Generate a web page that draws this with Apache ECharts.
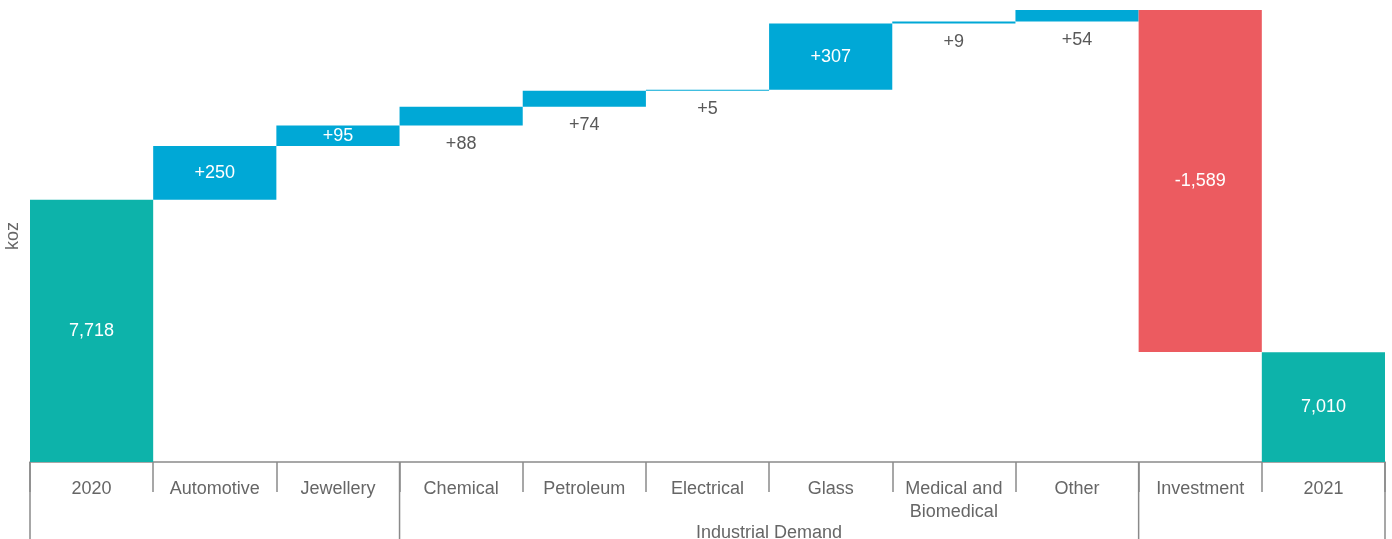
<!DOCTYPE html>
<html><head><meta charset="utf-8">
<script src="https://cdn.jsdelivr.net/npm/echarts@6/dist/echarts.min.js"></script>
<style>html,body{margin:0;padding:0;background:#fff}#c{width:1392px;height:539px}</style>
</head><body><div id="c"></div>
<script>
const categories = ['2020','Automotive','Jewellery','Chemical','Petroleum','Electrical','Glass','Medical and\nBiomedical','Other','Investment','2021'];
const values = [7718, 250, 95, 88, 74, 5, 307, 9, 54, -1589, 7010];
const isTotal = [true, false, false, false, false, false, false, false, false, false, true];
const groups = [
  {name: '', from: 0, to: 2},
  {name: 'Industrial Demand', from: 3, to: 8},
  {name: '', from: 9, to: 10}
];
const yMin = 6500, yMax = 8600;

const COL_TOTAL = '#0DB3AA', COL_UP = '#00A8D6', COL_DOWN = '#EC5B60';
const FONT = 'Liberation Sans, Arial, sans-serif';

const baseData = [], barData = [];
let run = 0;
values.forEach((v, i) => {
  let base, h, color;
  if (isTotal[i]) { base = 0; h = v; run = v; color = COL_TOTAL; }
  else if (v >= 0) { base = run; h = v; run += v; color = COL_UP; }
  else { run += v; base = run; h = -v; color = COL_DOWN; }
  baseData.push(base);
  const txt = isTotal[i] ? v.toLocaleString('en-US') : (v > 0 ? '+' : '') + v.toLocaleString('en-US');
  const inside = isTotal[i] || Math.abs(v) >= 90;
  barData.push({
    value: h,
    itemStyle: {color},
    label: inside
      ? {show: true, position: 'inside', color: '#fff', formatter: txt}
      : {show: true, position: 'bottom', distance: 9, color: '#595959', formatter: txt}
  });
});

const chart = echarts.init(document.getElementById('c'));
const gridBottom = 77;
chart.setOption({
  animation: false,
  grid: {left: 30, right: 7, top: 10, bottom: gridBottom, containLabel: false, outerBoundsMode: 'none'},
  xAxis: {
    type: 'category', data: categories,
    axisLine: {show: true, lineStyle: {color: '#8a8a8a', width: 1.5}},
    axisTick: {show: true, interval: 0, length: 30, lineStyle: {color: '#8a8a8a', width: 1.5}},
    axisLabel: {interval: 0, margin: 16, fontSize: 18, color: '#666', fontFamily: FONT, lineHeight: 23}
  },
  yAxis: {
    type: 'value', min: yMin, max: yMax,
    axisLine: {show: false}, axisTick: {show: false}, axisLabel: {show: false}, splitLine: {show: false},
    name: 'koz', nameLocation: 'middle', nameGap: 8,
    nameTextStyle: {fontSize: 18, color: '#666', fontFamily: FONT}
  },
  series: [
    {type: 'bar', stack: 'w', data: baseData, itemStyle: {color: 'transparent'}, barCategoryGap: '0%', silent: true},
    {type: 'bar', stack: 'w', data: barData, barCategoryGap: '0%',
     label: {fontSize: 18, fontFamily: FONT}}
  ]
});

function drawGroups() {
  const c0 = chart.convertToPixel({xAxisIndex: 0}, 0);
  const c1 = chart.convertToPixel({xAxisIndex: 0}, 1);
  const band = c1 - c0;
  const bx = i => c0 + (i - 0.5) * band;
  const yTop = chart.convertToPixel({yAxisIndex: 0}, yMin);
  const H = chart.getHeight();
  const els = [];
  const bounds = new Set();
  groups.forEach(g => { bounds.add(g.from); bounds.add(g.to + 1); });
  bounds.forEach(b => {
    els.push({type: 'line', shape: {x1: bx(b), y1: yTop, x2: bx(b), y2: H},
      style: {stroke: '#8a8a8a', lineWidth: 1.5}, silent: true});
  });
  groups.forEach(g => {
    if (!g.name) return;
    const cx = (bx(g.from) + bx(g.to + 1)) / 2;
    els.push({type: 'text', x: cx, y: yTop + 71, style: {text: g.name, fill: '#666', fontSize: 18,
      fontFamily: FONT, align: 'center', verticalAlign: 'middle'}, silent: true});
  });
  chart.setOption({graphic: els});
}
drawGroups();
</script></body></html>
